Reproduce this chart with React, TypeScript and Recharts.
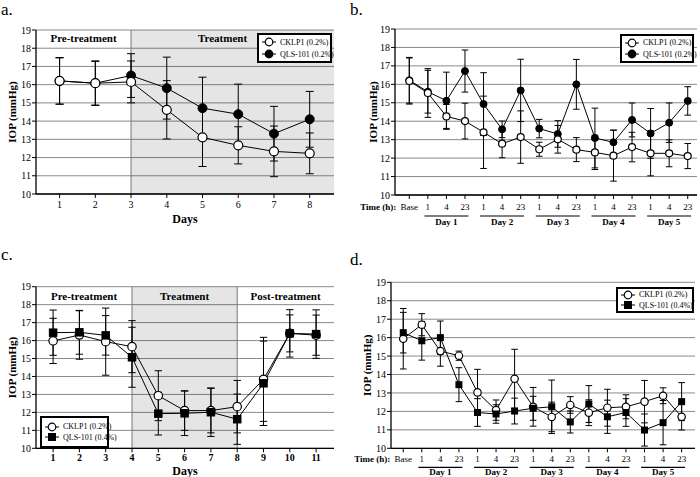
import React from "react";
import { LineChart, Line, XAxis, YAxis, CartesianGrid, ErrorBar, ReferenceArea, ReferenceLine, Legend } from "recharts";

const FONT = "'Liberation Serif', 'Times New Roman', Times, serif";
const GRID = "#8a8a8a";

// shared
const yTicks = [10, 11, 12, 13, 14, 15, 16, 17, 18, 19];
const hourLabels = ["Base", "1", "4", "23", "1", "4", "23", "1", "4", "23", "1", "4", "23", "1", "4", "23"];
const hourIdx = hourLabels.map((_, i) => i);
const dayLabels = ["Day 1", "Day 2", "Day 3", "Day 4", "Day 5"];
const dayCenters = [2, 5, 8, 11, 14];

// panel a
const daysA = [1, 2, 3, 4, 5, 6, 7, 8];
const cklpA = [16.21, 16.08, 16.15, 14.62, 13.11, 12.67, 12.34, 12.23];
const cklpSdA = [1.28, 1.22, 1.15, 1.6, 1.6, 1.02, 1.39, 1.12];
const qlsA = [16.2, 16.08, 16.5, 15.81, 14.71, 14.38, 13.31, 14.1];
const qlsSdA = [1.27, 1.2, 1.2, 1.7, 1.7, 1.65, 1.5, 1.53];

// panel b
const cklpB = [16.18, 15.53, 14.26, 14.01, 13.4, 12.78, 13.14, 12.48, 13.02, 12.46, 12.31, 12.13, 12.6, 12.26, 12.26, 12.11];
const cklpSdB = [1.25, 1.32, 0.65, 0.97, 1.96, 0.76, 1.42, 0.38, 0.75, 0.65, 0.93, 1.38, 0.8, 1.22, 0.73, 0.68];
const qlsB = [16.22, 15.6, 15.11, 16.72, 14.93, 13.56, 15.67, 13.6, 13.31, 16.0, 13.09, 12.86, 14.07, 13.34, 13.92, 15.1];
const qlsSdB = [1.24, 1.16, 1.55, 1.14, 1.7, 0.45, 1.69, 0.5, 0.72, 1.35, 1.62, 0.66, 0.92, 1.35, 1.07, 0.77];

// panel c
const daysC = [1, 2, 3, 4, 5, 6, 7, 8, 9, 10, 11];
const cklpC = [15.98, 16.31, 15.94, 15.66, 12.93, 12.1, 12.1, 12.32, 13.84, 16.4, 16.3];
const cklpSdC = [1.26, 1.35, 1.87, 1.45, 1.39, 1.1, 1.24, 1.46, 2.34, 1.03, 1.12];
const qlsC = [16.44, 16.46, 16.29, 15.07, 11.93, 11.95, 12.01, 11.62, 13.62, 16.4, 16.36];
const qlsSdC = [1.26, 1.22, 1.1, 1.67, 1.19, 1.24, 1.35, 1.4, 2.35, 1.32, 1.35];

// panel d
const cklpD = [15.94, 16.7, 15.27, 15.02, 13.03, 12.07, 13.77, 12.25, 11.7, 12.35, 11.93, 12.2, 12.25, 12.53, 12.85, 11.71];
const cklpSdD = [1.64, 0.6, 0.82, 0.25, 1.25, 0.55, 1.6, 1.05, 0.8, 0.45, 0.7, 1.0, 0.65, 1.15, 0.43, 0.72];
const qlsD = [16.27, 15.83, 16.0, 13.45, 11.94, 11.86, 12.02, 12.17, 12.25, 11.43, 12.4, 11.71, 11.94, 10.99, 11.39, 12.53];
const qlsSdD = [1.1, 1.05, 0.9, 0.92, 0.75, 0.5, 0.7, 0.65, 1.45, 0.6, 1.0, 0.9, 0.75, 0.87, 1.2, 1.03];

const legendLow = ["CKLP1 (0.2%)", "QLS-101 (0.2%)"];
const legendHigh = ["CKLP1 (0.2%)", "QLS-101 (0.4%)"];

const rows = (xs: number[], a: number[], aSd: number[], b: number[], bSd: number[]) =>
  xs.map((x, i) => ({ x, ck: a[i], ckSd: aSd[i], qls: b[i], qlsSd: bSd[i] }));

const dataA = rows(daysA, cklpA, cklpSdA, qlsA, qlsSdA);
const dataB = rows(hourIdx, cklpB, cklpSdB, qlsB, qlsSdB);
const dataC = rows(daysC, cklpC, cklpSdC, qlsC, qlsSdC);
const dataD = rows(hourIdx, cklpD, cklpSdD, qlsD, qlsSdD);

const domA = [0.34, 8.68];
const domB = [-0.77, 15.5];
const domC = [0.35, 11.68];
const domD = [-0.66, 15.72];

type Marker = "open" | "filled" | "square";

const openDot = (r: number) => ({ r, fill: "#fff", stroke: "#000", strokeWidth: 1.2 });
const solidDot = (r: number) => ({ r, fill: "#000", stroke: "#000", strokeWidth: 1 });
const squareDot = (s: number) => (p: any) => (
  <rect key={`sq-${p.index}`} x={p.cx - s / 2} y={p.cy - s / 2} width={s} height={s} fill="#000" />
);

function MarkerIcon({ kind }: { kind: Marker }) {
  return (
    <svg width={14} height={10} style={{ display: "block", flex: "none" }}>
      <line x1={0} x2={14} y1={5} y2={5} stroke="#000" strokeWidth={1} />
      {kind === "square" ? (
        <rect x={3} y={1} width={8} height={8} fill="#000" />
      ) : (
        <circle cx={7} cy={5} r={3.8} fill={kind === "open" ? "#fff" : "#000"} stroke="#000" strokeWidth={1.2} />
      )}
    </svg>
  );
}

function LegendBox({ labels, second, rowH }: { labels: string[]; second: Marker; rowH: number }) {
  const items: { label: string; kind: Marker }[] = [
    { label: labels[0], kind: "open" },
    { label: labels[1], kind: second },
  ];
  return (
    <div
      style={{
        width: "100%",
        height: "100%",
        boxSizing: "border-box",
        border: "2px solid #000",
        background: "#fff",
        display: "flex",
        flexDirection: "column",
        justifyContent: "center",
        padding: "0 3px",
        fontFamily: FONT,
        fontSize: 8,
        color: "#000",
      }}
    >
      {items.map((it) => (
        <div key={it.label} style={{ display: "flex", alignItems: "center", height: rowH, color: "#000" }}>
          <MarkerIcon kind={it.kind} />
          <span style={{ marginLeft: 4, whiteSpace: "nowrap", color: "#000" }}>{it.label}</span>
        </div>
      ))}
    </div>
  );
}

const yLabel = (cx: number) => ({
  content: (props: any) => {
    const vb = props.viewBox;
    const cy = vb.y + vb.height / 2;
    return (
      <text x={cx} y={cy} transform={`rotate(-90 ${cx} ${cy})`} textAnchor="middle" dominantBaseline="central" fontSize={11} fontWeight="bold" fontFamily={FONT} fill="#000">
        IOP (mmHg)
      </text>
    );
  },
});

const daysLabel = (dy: number) => ({
  content: (props: any) => {
    const vb = props.viewBox;
    return (
      <text x={vb.x + vb.width / 2} y={vb.y + dy} textAnchor="middle" dominantBaseline="central" fontSize={12} fontWeight="bold" fontFamily={FONT} fill="#000">
        Days
      </text>
    );
  },
});

const regionLabel = (text: string, dy: number, dx = 0) => ({
  content: (props: any) => {
    const vb = props.viewBox;
    return (
      <text x={vb.x + vb.width / 2 + dx} y={vb.y + dy} textAnchor="middle" dominantBaseline="central" fontSize={11} fontWeight="bold" fontFamily={FONT} fill="#000">
        {text}
      </text>
    );
  },
});

const HourTick = (props: any) => {
  const { x, y, payload } = props;
  return (
    <g>
      <text x={x} y={y} dy="0.71em" textAnchor="middle" fontSize={9} fontFamily={FONT} fill="#000">
        {hourLabels[payload.value]}
      </text>
      {payload.value === 0 ? (
        <text x={x - 13} y={y} dy="0.71em" textAnchor="end" fontSize={9} fontWeight="bold" fontFamily={FONT} fill="#000">
          Time (h):
        </text>
      ) : null}
    </g>
  );
};

const makeGroupTick = (lineDy: number, textDy: number) => (props: any) => {
  const { x, y, payload } = props;
  const i = dayCenters.indexOf(payload.value);
  return (
    <g>
      <line x1={x - 22} x2={x + 22} y1={y + lineDy} y2={y + lineDy} stroke="#000" strokeWidth={1.2} />
      <text x={x} y={y + textDy} textAnchor="middle" dominantBaseline="central" fontSize={9} fontWeight="bold" fontFamily={FONT} fill="#000">
        {dayLabels[i]}
      </text>
    </g>
  );
};

const yTick = { fontSize: 10, fill: "#000", fontFamily: FONT };
const axisLine = { stroke: "#000", strokeWidth: 1.3 };
const tickLine = { stroke: "#000" };

function ckLine(r: number, cap: number) {
  return (
    <Line type="linear" dataKey="ck" name="CKLP1" stroke="#000" strokeWidth={1} dot={openDot(r)} activeDot={false} isAnimationActive={false}>
      <ErrorBar dataKey="ckSd" direction="y" width={cap} stroke="#000" strokeWidth={1} />
    </Line>
  );
}

function qlsLine(kind: Marker, size: number, cap: number) {
  return (
    <Line
      type="linear"
      dataKey="qls"
      name="QLS-101"
      stroke="#000"
      strokeWidth={1}
      dot={kind === "square" ? squareDot(size) : solidDot(size / 2)}
      activeDot={false}
      isAnimationActive={false}
    >
      <ErrorBar dataKey="qlsSd" direction="y" width={cap} stroke="#000" strokeWidth={1} />
    </Line>
  );
}

function PanelLetter({ text, left, top }: { text: string; left: number; top: number }) {
  return (
    <div style={{ position: "absolute", left, top, fontFamily: FONT, fontSize: 17, lineHeight: "12px", color: "#000" }}>{text}</div>
  );
}

export default function App() {
  return (
    <div style={{ position: "absolute", left: 0, top: 0, width: 700, height: 477, background: "#fff", overflow: "hidden" }}>
      {/* a */}
      <div style={{ position: "absolute", left: 0, top: 0 }}>
        <LineChart width={350} height={240} data={dataA} margin={{ top: 30, right: 16, bottom: 17, left: 0 }}>
          <CartesianGrid vertical={false} stroke={GRID} />
          <ReferenceArea x1={domA[0]} x2={3} y1={10} y2={19} fill="none" stroke="none" label={regionLabel("Pre-treatment", 8)} />
          <ReferenceArea x1={3} x2={domA[1]} y1={10} y2={19} fill="#000" fillOpacity={0.1} stroke="none" label={regionLabel("Treatment", 8, -10)} />
          <ReferenceLine x={3} stroke="#777" />
          <XAxis type="number" dataKey="x" domain={domA} ticks={daysA} interval={0} allowDataOverflow height={29} tick={yTick} tickSize={4} tickMargin={3} axisLine={axisLine} tickLine={tickLine} label={daysLabel(25)} />
          <YAxis type="number" domain={[10, 19]} ticks={yTicks} interval={0} allowDataOverflow width={36} tick={yTick} tickSize={4} tickMargin={1} axisLine={axisLine} tickLine={tickLine} label={yLabel(12)} />
          {qlsLine("filled", 9, 4)}
          {ckLine(4.5, 4)}
          <Legend layout="horizontal" verticalAlign="middle" align="center" wrapperStyle={{ left: 257, top: 33, width: 75, height: 30 }} content={() => <LegendBox labels={legendLow} second="filled" rowH={12} />} />
        </LineChart>
      </div>

      {/* b */}
      <div style={{ position: "absolute", left: 350, top: 0 }}>
        <LineChart width={350} height={240} data={dataB} margin={{ top: 29, right: 3, bottom: 12, left: 0 }}>
          <CartesianGrid vertical={false} stroke={GRID} />
          <XAxis type="number" dataKey="x" domain={domB} ticks={hourIdx} interval={0} allowDataOverflow height={17} tick={HourTick} tickSize={4} tickMargin={5} axisLine={axisLine} tickLine={tickLine} />
          <XAxis xAxisId="grp" type="number" dataKey="x" domain={domB} ticks={dayCenters} interval={0} allowDataOverflow height={16} tick={makeGroupTick(4, 10)} tickSize={0} tickMargin={0} axisLine={false} tickLine={false} />
          <YAxis type="number" domain={[10, 19]} ticks={yTicks} interval={0} allowDataOverflow width={45} tick={yTick} tickSize={4} tickMargin={1} axisLine={axisLine} tickLine={tickLine} label={yLabel(23)} />
          {qlsLine("filled", 7, 3.3)}
          {ckLine(3.5, 3.3)}
          <Legend layout="horizontal" verticalAlign="middle" align="center" wrapperStyle={{ left: 270, top: 34, width: 74, height: 29 }} content={() => <LegendBox labels={legendLow} second="filled" rowH={11.3} />} />
        </LineChart>
      </div>

      {/* c */}
      <div style={{ position: "absolute", left: 0, top: 240 }}>
        <LineChart width={350} height={237} data={dataC} margin={{ top: 46.7, right: 16, bottom: 2.7, left: 0 }}>
          <CartesianGrid vertical={false} stroke={GRID} />
          <ReferenceArea x1={domC[0]} x2={4} y1={10} y2={19} fill="none" stroke="none" label={regionLabel("Pre-treatment", 9.5)} />
          <ReferenceArea x1={4} x2={8} y1={10} y2={19} fill="#000" fillOpacity={0.1} stroke="none" label={regionLabel("Treatment", 9.5)} />
          <ReferenceArea x1={8} x2={domC[1]} y1={10} y2={19} fill="none" stroke="none" label={regionLabel("Post-treatment", 9.5)} />
          <ReferenceLine x={4} stroke="#777" />
          <ReferenceLine x={8} stroke="#777" />
          <XAxis type="number" dataKey="x" domain={domC} ticks={daysC} interval={0} allowDataOverflow height={26} tick={{ ...yTick, fontWeight: "bold" }} tickSize={4} tickMargin={2} axisLine={axisLine} tickLine={tickLine} label={daysLabel(22.7)} />
          <YAxis type="number" domain={[10, 19]} ticks={yTicks} interval={0} allowDataOverflow width={36} tick={yTick} tickSize={4} tickMargin={1} axisLine={axisLine} tickLine={tickLine} label={yLabel(12)} />
          {ckLine(4.2, 3.7)}
          {qlsLine("square", 8.5, 3.7)}
          <Legend layout="horizontal" verticalAlign="middle" align="center" wrapperStyle={{ left: 40, top: 176, width: 69, height: 32 }} content={() => <LegendBox labels={legendHigh} second="square" rowH={10.5} />} />
        </LineChart>
      </div>

      {/* d */}
      <div style={{ position: "absolute", left: 350, top: 240 }}>
        <LineChart width={350} height={237} data={dataD} margin={{ top: 42.3, right: 5, bottom: 0.7, left: 0 }}>
          <CartesianGrid vertical={false} stroke={GRID} />
          <XAxis type="number" dataKey="x" domain={domD} ticks={hourIdx} interval={0} allowDataOverflow height={16} tick={HourTick} tickSize={4} tickMargin={3} axisLine={axisLine} tickLine={tickLine} />
          <XAxis xAxisId="grp" type="number" dataKey="x" domain={domD} ticks={dayCenters} interval={0} allowDataOverflow height={12} tick={makeGroupTick(3, 7.4)} tickSize={0} tickMargin={0} axisLine={false} tickLine={false} />
          <YAxis type="number" domain={[10, 19]} ticks={yTicks} interval={0} allowDataOverflow width={41} tick={yTick} tickSize={4} tickMargin={1} axisLine={axisLine} tickLine={tickLine} label={yLabel(17)} />
          {ckLine(3.7, 3.3)}
          {qlsLine("square", 7, 3.3)}
          <Legend layout="horizontal" verticalAlign="middle" align="center" wrapperStyle={{ left: 266, top: 47, width: 78, height: 26 }} content={() => <LegendBox labels={legendHigh} second="square" rowH={10.7} />} />
        </LineChart>
      </div>

      <PanelLetter text="a." left={1} top={4} />
      <PanelLetter text="b." left={350} top={4} />
      <PanelLetter text="c." left={1} top={248.5} />
      <PanelLetter text="d." left={350} top={253.5} />
    </div>
  );
}
